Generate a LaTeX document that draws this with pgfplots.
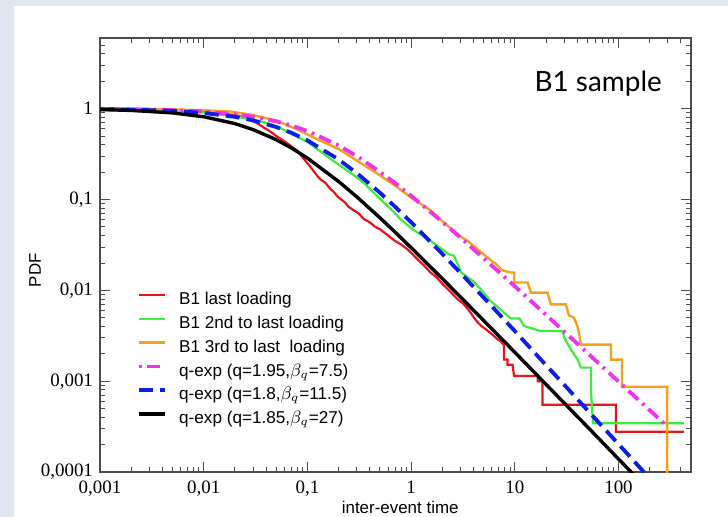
\documentclass[border=0pt]{standalone}
\usepackage{fontspec}
\setmainfont{Liberation Serif}
\setsansfont{Liberation Sans}
\newfontfamily\latofont{Lato}
\usepackage{pgfplots}
\pgfplotsset{compat=1.18}
\definecolor{BgBlue}{HTML}{DEE6EF}
\definecolor{DRed}{HTML}{E8141C}
\definecolor{DGreen}{HTML}{3CEB3C}
\definecolor{DOrange}{HTML}{F7A11A}
\definecolor{FMag}{HTML}{EE33EE}
\definecolor{FBlue}{HTML}{0A1EE6}

\begin{document}
\begin{tikzpicture}
\fill[BgBlue] (-50bp,-22.5bp) rectangle (314bp,236bp);
\fill[white] (-43bp,-22.5bp) rectangle (314bp,233bp);
\useasboundingbox (-50bp,-22.5bp) rectangle (314bp,236bp);
\begin{axis}[
  at={(0,0)},anchor=south west,
  scale only axis,width=295.5bp,height=217bp,
  xmode=log,ymode=log,
  xmin=0.001,xmax=500,ymin=0.0001,ymax=6,
  xtick={0.001,0.01,0.1,1,10,100},
  xticklabels={{0,001},{0,01},{0,1},{1},{10},{100}},
  ytick={0.0001,0.001,0.01,0.1,1},
  yticklabels={{0,0001},{0,001},{0,01},{0,1},{1}},
  minor xtick={0.002,0.003,0.004,0.005,0.006,0.007,0.008,0.009,
    0.02,0.03,0.04,0.05,0.06,0.07,0.08,0.09,
    0.2,0.3,0.4,0.5,0.6,0.7,0.8,0.9,
    2,3,4,5,6,7,8,9,20,30,40,50,60,70,80,90,200,300,400},
  minor ytick={0.0002,0.0003,0.0004,0.0005,0.0006,0.0007,0.0008,0.0009,
    0.002,0.003,0.004,0.005,0.006,0.007,0.008,0.009,
    0.02,0.03,0.04,0.05,0.06,0.07,0.08,0.09,
    0.2,0.3,0.4,0.5,0.6,0.7,0.8,0.9,2,3,4,5,6},
  tick align=inside,
  major tick length=5bp,minor tick length=2.6bp,
  tick style={draw=black!70,line width=0.5bp},
  axis line style={draw=black!70,line width=0.6bp},
  tick label style={font=\fontsize{9.5}{11}\selectfont\rmfamily},
  xticklabel style={yshift=-1bp},
  xlabel={inter-event time},ylabel={PDF},
  xlabel style={font=\fontsize{8.5}{10}\selectfont\sffamily,at={(axis description cs:0.508,-0.081)},anchor=center},
  ylabel style={font=\fontsize{8.5}{10}\selectfont\sffamily,at={(axis description cs:-0.110,0.465)},anchor=center},
  legend style={at={(axis description cs:0.0626,0.415)},anchor=north west,draw=none,fill=none,
    inner sep=0pt,row sep=3.9bp,column sep=6bp,
    font=\fontsize{8.6}{10}\selectfont\sffamily,
    nodes={inner sep=0pt,text height=6.2bp,text depth=1.8bp}},
  legend cell align=left,
  legend image code/.code={\draw[#1] (0bp,2.6bp) -- (13bp,2.6bp);},
]
% B1 last loading
\addplot[DRed,line width=1.1bp] coordinates {
(0.001,0.99) (0.002,0.985) (0.004,0.97) (0.007,0.945) (0.01,0.925) (0.015,0.885)
(0.021,0.843) (0.027,0.77) (0.033,0.69) (0.038,0.62) (0.045,0.55) (0.05,0.50)
(0.058,0.45) (0.066,0.405) (0.073,0.37) (0.08,0.345) (0.088,0.30) (0.095,0.27)
(0.105,0.235) (0.115,0.205) (0.124,0.183) (0.135,0.165) (0.15,0.152) (0.165,0.132)
(0.18,0.121) (0.195,0.108) (0.21,0.101) (0.23,0.093) (0.25,0.083) (0.28,0.076)
(0.31,0.071) (0.35,0.061) (0.40,0.056) (0.45,0.050) (0.5,0.047) (0.55,0.0434)
(0.62,0.039) (0.7,0.035) (0.8,0.032) (0.92,0.0284) (1.05,0.0245) (1.2,0.021)
(1.35,0.0185) (1.54,0.0157) (1.75,0.0140) (2.0,0.0118) (2.3,0.0101) (2.8,0.0080)
(3.2,0.0071) (3.7,0.0058) (4.2,0.0047) (4.7,0.0041) (5.3,0.0037) (6.0,0.0033)
(6.8,0.0029) (7.3,0.00275) (7.88,0.0025) (7.88,0.00173) (8.5,0.00173) (8.5,0.00152)
(9.5,0.00152) (9.84,0.00114) (16.6,0.00114) (16.6,0.00100) (18.5,0.00100)
(18.5,0.00055) (94.6,0.00055) (94.6,0.000277) (430,0.000277)};
\addlegendentry{B1 last loading}
% B1 2nd to last loading
\addplot[DGreen,line width=1.1bp] coordinates {
(0.001,0.995) (0.003,0.975) (0.006,0.945) (0.01,0.905) (0.02,0.825) (0.03,0.755)
(0.044,0.68) (0.06,0.58) (0.08,0.49) (0.1,0.43) (0.12,0.37) (0.167,0.28)
(0.22,0.225) (0.28,0.185) (0.35,0.152) (0.45,0.115) (0.55,0.092) (0.634,0.079)
(0.8,0.060) (1.06,0.046) (1.4,0.038) (1.79,0.031) (2.3,0.025) (2.6,0.024)
(3.05,0.0157) (4.0,0.0125) (4.69,0.0103) (5.86,0.00762) (7.0,0.0064) (7.88,0.00568)
(9.15,0.0049) (11.1,0.0049) (12.3,0.00404) (17.8,0.00356) (28.9,0.00356)
(29.9,0.00303) (34.8,0.00223) (40.4,0.00173) (43.4,0.00141) (54.2,0.00141)
(54.2,0.000805) (56.7,0.000345) (430,0.000345)};
\addlegendentry{B1 2nd to last loading}
% B1 3rd to last loading
\addplot[DOrange,line width=1.2bp] coordinates {
(0.001,1.0) (0.002,0.997) (0.005,0.985) (0.01,0.96) (0.018,0.93) (0.03,0.85)
(0.05,0.74) (0.08,0.59) (0.12,0.47) (0.2,0.36) (0.35,0.24) (0.5,0.185)
(0.7,0.142) (1.0,0.105) (1.54,0.076) (2.0,0.058) (2.79,0.0416) (3.5,0.035)
(4.37,0.0284) (5.2,0.024) (6.0,0.021) (6.6,0.0195) (7.33,0.0171) (8.0,0.0163)
(9.15,0.0157) (9.84,0.0157) (9.84,0.0122) (13.3,0.0122) (14.3,0.00944)
(20.7,0.00944) (22.3,0.0070) (31.1,0.0070) (33.3,0.0053) (37.2,0.0050)
(40.6,0.0039) (43.4,0.00253) (84.7,0.00253) (84.7,0.00173) (108,0.00173)
(108,0.000869) (294,0.000869) (294,0.00005)};
\addlegendentry{B1 3rd to last\ \ loading}
% q-exp fits
\addplot[FMag,line width=1.9bp,dash pattern=on 1.3bp off 2.8bp on 6.5bp off 2.8bp] coordinates {
(0.001,0.993) (0.002,0.985) (0.005,0.964) (0.01,0.930) (0.02,0.869) (0.03,0.815)
(0.05,0.726) (0.07,0.653) (0.1,0.568) (0.2,0.394) (0.3,0.300) (0.5,0.202)
(0.7,0.152) (1,0.110) (2,0.0568) (3,0.0380) (5,0.0226) (7,0.0160) (10,0.0111)
(20,0.00537) (30,0.00351) (50,0.00205) (70,0.00144) (100,0.000991)
(150,0.000647) (200,0.000478) (290,0.000324)};
\addlegendentry{q-exp (q=1.95,$\beta_q$=7.5)}
\addplot[FBlue,line width=1.9bp,dash pattern=on 7bp off 3.5bp] coordinates {
(0.001,0.989) (0.002,0.978) (0.005,0.946) (0.01,0.898) (0.02,0.813) (0.03,0.742)
(0.05,0.628) (0.07,0.543) (0.1,0.448) (0.2,0.276) (0.3,0.195) (0.5,0.119)
(0.7,0.0833) (1,0.0562) (2,0.0252) (3,0.0155) (5,0.00834) (7,0.00553)
(10,0.00356) (20,0.00150) (30,0.000911) (50,0.000481) (70,0.000316)
(100,0.000203) (150,0.000122) (180,0.0000969)};
\addlegendentry{q-exp (q=1.8,$\beta_q$=11.5)}
\addplot[black,line width=1.7bp] coordinates {
(0.001,0.978) (0.002,0.957) (0.005,0.899) (0.01,0.815) (0.02,0.685) (0.03,0.588)
(0.05,0.456) (0.07,0.370) (0.1,0.286) (0.2,0.158) (0.3,0.1068) (0.5,0.0630)
(0.7,0.0438) (1,0.0295) (2,0.01345) (3,0.00843) (5,0.00466) (7,0.00315)
(10,0.00208) (20,0.000922) (30,0.000573) (50,0.000315) (70,0.000212)
(100,0.000139) (140,0.0000937)};
\addlegendentry{q-exp (q=1.85,$\beta_q$=27)}
\node[font=\latofont\fontsize{14}{16}\selectfont] at (axis description cs:0.843,0.896) {B1 sample};
\end{axis}
\end{tikzpicture}
\end{document}
